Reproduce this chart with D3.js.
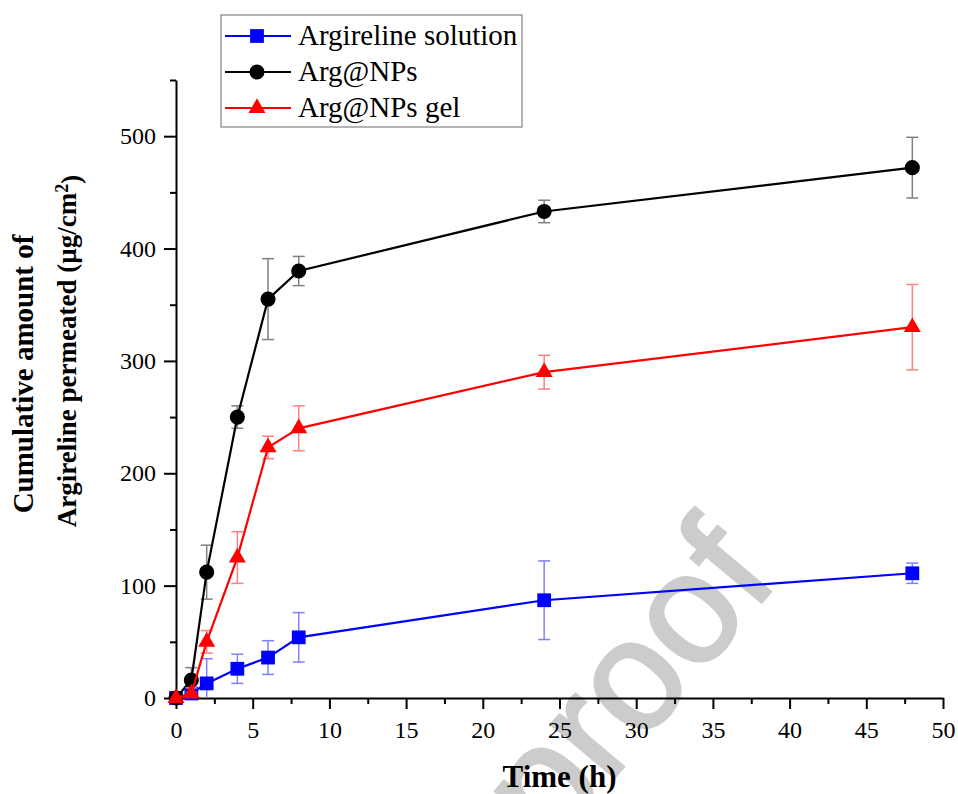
<!DOCTYPE html>
<html>
<head>
<meta charset="utf-8">
<script src="https://cdn.jsdelivr.net/npm/d3@7"></script>
<style>
  body { margin: 0; background: #fff; }
  text { font-family: "Liberation Serif", "Times New Roman", serif; }
</style>
</head>
<body>
<div id="chart"></div>
<script>
// values
var timeHours = [0, 1, 2, 4, 6, 8, 24, 48];
var seriesNames = ["Argireline solution", "Arg@NPs", "Arg@NPs gel"];
var solutionValues = [0, 4, 13, 26, 36, 54, 87, 111];
var solutionErrors = [0, 3, 22, 13, 15, 22, 35, 9];
var npsValues = [0, 16, 112, 250, 355, 380, 433, 472];
var npsErrors = [0, 11, 24, 10, 36, 13, 10, 27];
var gelValues = [0, 4, 50, 125, 223, 240, 290, 330];
var gelErrors = [0, 5, 10, 23, 10, 20, 15, 38];
var xTicks = [0, 5, 10, 15, 20, 25, 30, 35, 40, 45, 50];
var xMinorTicks = [2.5, 7.5, 12.5, 17.5, 22.5, 27.5, 32.5, 37.5, 42.5, 47.5];
var yTicks = [0, 100, 200, 300, 400, 500];
var yMinorTicks = [50, 150, 250, 350, 450, 550];

var svgWidth = 958;
var svgHeight = 794;

var margin = {
  top: 80,
  right: 15,
  bottom: 96,
  left: 176
};

var width = svgWidth - margin.left - margin.right;
var height = svgHeight - margin.top - margin.bottom;

var svg = d3.select("#chart")
  .append("svg")
  .attr("width", svgWidth)
  .attr("height", svgHeight);

// pre-proof watermark, sits under the chart and runs off the bottom edge
svg.append("text")
  .attr("transform", "translate(552, 852) rotate(-50)")
  .style("font-family", "'Liberation Sans', Arial, sans-serif")
  .style("font-size", "156px")
  .attr("fill", "#cccccc")
  .attr("stroke", "#cccccc")
  .attr("stroke-width", 3)
  .text("proof");

var chartGroup = svg.append("g")
  .attr("transform", `translate(${margin.left}, ${margin.top})`);

// scales
var xScale = d3.scaleLinear()
  .domain([0, 50])
  .range([0, width]);

var yScale = d3.scaleLinear()
  .domain([0, 550])
  .range([height, 0]);

// series table built from the arrays above
var series = [
  { name: seriesNames[0], values: solutionValues, errors: solutionErrors, color: "#0000ff", errColor: "#8080ff", symbol: d3.symbolSquare, size: 190 },
  { name: seriesNames[1], values: npsValues, errors: npsErrors, color: "#000000", errColor: "#808080", symbol: d3.symbolCircle, size: 180 },
  { name: seriesNames[2], values: gelValues, errors: gelErrors, color: "#ff0000", errColor: "#ff8080", symbol: d3.symbolTriangle, size: 125 }
];

// axes
var xAxis = d3.axisBottom(xScale).tickValues(xTicks).tickSize(11).tickSizeOuter(0).tickPadding(12);
var xMinor = d3.axisBottom(xScale).tickValues(xMinorTicks).tickSize(6).tickFormat("");
var yAxis = d3.axisLeft(yScale).tickValues(yTicks).tickSize(12).tickSizeOuter(0).tickPadding(8);
var yMinor = d3.axisLeft(yScale).tickValues(yMinorTicks).tickSize(6).tickFormat("");

chartGroup.append("g")
  .attr("transform", `translate(0, ${height})`)
  .call(xAxis);
chartGroup.append("g")
  .attr("transform", `translate(0, ${height})`)
  .call(xMinor)
  .select(".domain").remove();

chartGroup.append("g")
  .call(yAxis);
chartGroup.append("g")
  .call(yMinor)
  .select(".domain").remove();

chartGroup.selectAll(".domain, .tick line")
  .attr("stroke", "#000")
  .attr("stroke-width", 2);

chartGroup.selectAll(".tick text")
  .style("font-family", "'Liberation Serif', serif")
  .style("font-size", "24px")
  .attr("fill", "#000");

// error bars, lines and markers
var line = d3.line()
  .x((d, i) => xScale(timeHours[i]))
  .y(d => yScale(d));

series.forEach(function(s) {
  var g = chartGroup.append("g");
  var pts = s.values.map((v, i) => ({ t: timeHours[i], v: v, e: s.errors[i] }))
    .filter(d => d.e > 0);

  var eb = g.selectAll(".eb")
    .data(pts)
    .enter()
    .append("g")
    .attr("stroke", s.errColor)
    .attr("stroke-width", 1.5);
  eb.append("line")
    .attr("x1", d => xScale(d.t)).attr("x2", d => xScale(d.t))
    .attr("y1", d => yScale(Math.max(0, d.v - d.e)))
    .attr("y2", d => yScale(d.v + d.e));
  eb.append("line")
    .attr("x1", d => xScale(d.t) - 6).attr("x2", d => xScale(d.t) + 6)
    .attr("y1", d => yScale(d.v + d.e)).attr("y2", d => yScale(d.v + d.e));
  eb.filter(d => d.v - d.e > 0)
    .append("line")
    .attr("x1", d => xScale(d.t) - 6).attr("x2", d => xScale(d.t) + 6)
    .attr("y1", d => yScale(d.v - d.e)).attr("y2", d => yScale(d.v - d.e));

  g.append("path")
    .datum(s.values)
    .attr("d", line)
    .attr("fill", "none")
    .attr("stroke", s.color)
    .attr("stroke-width", 2.2);

  g.selectAll(".mk")
    .data(s.values)
    .enter()
    .append("path")
    .attr("d", d3.symbol().type(s.symbol).size(s.size))
    .attr("transform", (d, i) => `translate(${xScale(timeHours[i])}, ${yScale(d)})`)
    .attr("fill", s.color);
});

// legend
var legend = svg.append("g");
legend.append("rect")
  .attr("x", 221)
  .attr("y", 15)
  .attr("width", 301)
  .attr("height", 112)
  .attr("fill", "#fff")
  .attr("stroke", "#808080")
  .attr("stroke-width", 1.2);

var rows = legend.selectAll(".row")
  .data(series)
  .enter()
  .append("g")
  .attr("transform", (d, i) => `translate(225, ${36 + i * 36})`);
rows.append("line")
  .attr("x1", 0).attr("x2", 66)
  .attr("stroke", d => d.color)
  .attr("stroke-width", 2.2);
rows.append("path")
  .attr("d", d => d3.symbol().type(d.symbol).size(d.size)())
  .attr("transform", "translate(32, 0)")
  .attr("fill", d => d.color);
rows.append("text")
  .attr("x", 73)
  .attr("y", 9)
  .style("font-size", "29px")
  .text(d => d.name);

// axis labels
svg.append("text")
  .attr("x", margin.left + width / 2)
  .attr("y", 787)
  .attr("text-anchor", "middle")
  .style("font-size", "31px")
  .style("font-weight", "bold")
  .text("Time (h)");

svg.append("text")
  .attr("transform", "translate(33, 374) rotate(-90)")
  .attr("text-anchor", "middle")
  .style("font-size", "29px")
  .style("font-weight", "bold")
  .text("Cumulative amount of");

var yLabel2 = svg.append("text")
  .attr("transform", "translate(76, 351) rotate(-90)")
  .attr("text-anchor", "middle")
  .style("font-size", "27px")
  .style("font-weight", "bold");
yLabel2.append("tspan").text("Argireline permeated (\u00b5g/cm");
yLabel2.append("tspan").attr("dy", "-0.45em").style("font-size", "18px").text("2");
yLabel2.append("tspan").attr("dy", "0.45em").text(")");
</script>
</body>
</html>
